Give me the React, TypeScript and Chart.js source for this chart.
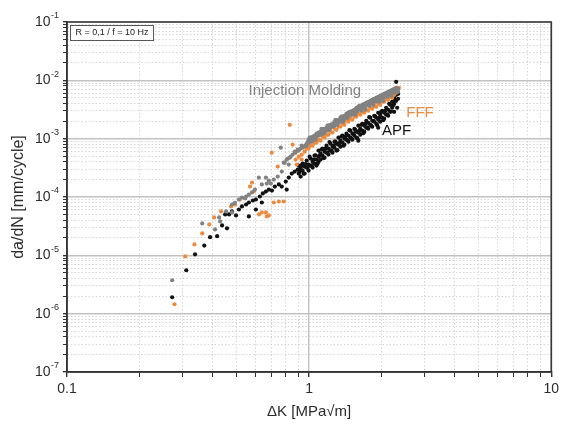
import { useEffect, useRef } from 'react';
import { Chart } from 'chart.js/auto';

// ΔK [MPa√m], da/dN [mm/cycle]
const moldingPoints: [number, number][] = [
	[0.272, 3.74e-6], [0.362, 3.52e-5], [0.409, 2.78e-5], [0.425, 4.46e-5], [0.429, 3.81e-5],
	[0.454, 5.65e-5], [0.48, 5.43e-5], [0.48, 7.44e-5], [0.494, 7.9e-5], [0.513, 9.06e-5],
	[0.528, 9.8e-5], [0.544, 9.43e-5], [0.549, 1.02e-4], [0.564, 1.1e-4], [0.581, 1.2e-4],
	[0.597, 1.34e-4], [0.62, 2.15e-4], [0.638, 1.64e-4], [0.663, 2.15e-4], [0.669, 1.7e-4],
	[0.682, 1.91e-4], [0.695, 1.7e-4], [0.715, 1.99e-4], [0.742, 2.24e-4], [0.764, 7.02e-4],
	[0.771, 2.73e-4], [0.786, 3.88e-4], [0.793, 3.88e-4], [0.808, 4.38e-4], [0.816, 4.55e-4],
	[0.824, 3.6e-4], [0.832, 4.73e-4], [0.839, 4.92e-4], [0.856, 5.33e-4], [0.872, 5.99e-4],
	[0.88, 5.76e-4], [0.897, 6.49e-4], [0.906, 6.24e-4], [0.923, 6.75e-4], [0.932, 7.59e-4],
	[0.94, 7.02e-4], [0.949, 7.3e-4], [0.967, 7.59e-4],
	[0.977, 8.21e-4], [0.977, 7.59e-4], [0.986, 8.7e-4], [0.995, 9.61e-4], [0.995, 8.55e-4],
	[1.005, 1.04e-3], [1.014, 1.04e-3], [1.014, 8.89e-4], [1.024, 8.89e-4], [1.034, 1.07e-3],
	[1.034, 9.4e-4], [1.043, 1.09e-3], [1.053, 1.13e-3], [1.053, 1.0e-3], [1.063, 9.61e-4],
	[1.073, 1.22e-3], [1.073, 1.09e-3], [1.084, 1.22e-3], [1.094, 1.27e-3], [1.094, 1.13e-3],
	[1.104, 1.17e-3], [1.115, 1.32e-3], [1.115, 1.17e-3], [1.125, 1.48e-3], [1.136, 1.42e-3],
	[1.136, 1.22e-3], [1.147, 1.22e-3], [1.158, 1.48e-3], [1.158, 1.32e-3], [1.169, 1.42e-3],
	[1.18, 1.54e-3], [1.18, 1.37e-3], [1.191, 1.67e-3], [1.202, 1.67e-3], [1.202, 1.42e-3],
	[1.214, 1.42e-3], [1.225, 1.73e-3], [1.225, 1.54e-3], [1.237, 1.7e-3], [1.249, 1.8e-3],
	[1.249, 1.6e-3], [1.261, 1.67e-3], [1.273, 1.95e-3], [1.273, 1.67e-3], [1.285, 2.11e-3],
	[1.297, 2.03e-3], [1.297, 1.8e-3], [1.309, 1.73e-3], [1.322, 2.11e-3], [1.322, 1.87e-3],
	[1.334, 2.03e-3], [1.347, 2.29e-3], [1.347, 1.95e-3], [1.36, 2.38e-3], [1.373, 2.38e-3],
	[1.373, 2.11e-3], [1.386, 1.95e-3], [1.399, 2.47e-3], [1.399, 2.2e-3], [1.412, 2.42e-3],
	[1.426, 2.68e-3], [1.426, 2.29e-3], [1.439, 2.25e-3], [1.453, 2.78e-3], [1.453, 2.47e-3],
	[1.467, 2.89e-3], [1.481, 2.89e-3], [1.481, 2.57e-3], [1.495, 2.57e-3], [1.509, 3.01e-3],
	[1.509, 2.68e-3], [1.523, 3.01e-3], [1.538, 3.13e-3], [1.538, 2.78e-3], [1.552, 2.57e-3],
	[1.567, 3.39e-3], [1.567, 2.89e-3], [1.582, 3.01e-3], [1.597, 3.52e-3], [1.597, 3.13e-3],
	[1.612, 3.66e-3], [1.627, 3.66e-3], [1.627, 3.26e-3], [1.643, 3.01e-3], [1.659, 3.81e-3],
	[1.659, 3.39e-3], [1.674, 3.52e-3], [1.69, 3.97e-3], [1.69, 3.52e-3], [1.706, 3.13e-3],
	[1.722, 4.13e-3], [1.722, 3.66e-3], [1.739, 3.97e-3], [1.755, 4.29e-3], [1.755, 3.81e-3],
	[1.772, 3.66e-3], [1.789, 4.46e-3], [1.789, 3.97e-3], [1.806, 4.46e-3], [1.823, 4.64e-3],
	[1.823, 4.13e-3], [1.84, 3.81e-3], [1.858, 4.83e-3], [1.858, 4.29e-3], [1.875, 4.29e-3],
	[1.893, 5.02e-3], [1.893, 4.46e-3], [1.911, 4.83e-3], [1.929, 5.22e-3], [1.929, 4.64e-3],
	[1.948, 4.29e-3], [1.966, 5.43e-3], [1.966, 4.83e-3], [1.985, 5.02e-3], [2.004, 5.65e-3],
	[2.004, 5.02e-3], [2.023, 4.46e-3], [2.042, 5.88e-3], [2.042, 5.22e-3], [2.062, 5.88e-3],
	[2.081, 6.11e-3], [2.081, 5.43e-3], [2.101, 5.22e-3], [2.121, 6.36e-3], [2.121, 5.65e-3],
	[2.141, 5.88e-3], [2.161, 6.61e-3], [2.161, 5.88e-3], [2.182, 5.43e-3], [2.203, 6.88e-3],
	[2.203, 6.11e-3], [2.224, 6.61e-3], [2.245, 7.15e-3], [2.245, 6.36e-3], [2.266, 6.11e-3],
	[2.288, 7.44e-3], [2.288, 6.61e-3], [2.31, 6.88e-3], [2.331, 7.15e-3], [2.331, 6.36e-3],
];

const fffPoints: [number, number][] = [
	[0.278, 1.45e-6], [0.308, 9.6e-6], [0.336, 1.54e-5], [0.362, 2.38e-5], [0.387, 3.39e-5],
	[0.405, 4.46e-5], [0.433, 5.65e-5], [0.476, 6.88e-5], [0.494, 7.44e-5], [0.518, 9.06e-5],
	[0.621, 5.02e-5], [0.638, 5.43e-5], [0.663, 5.43e-5], [0.682, 4.83e-5], [0.669, 4.64e-5],
	[0.715, 8.05e-5], [0.75, 8.37e-5], [0.786, 8.37e-5], [0.57, 1.51e-4], [0.581, 1.77e-4],
	[0.592, 1.25e-4], [0.701, 5.76e-4], [0.742, 3.32e-4], [0.832, 1.73e-3], [0.855, 7.9e-4],
	[0.88, 4.38e-4], [0.889, 3.6e-4], [0.906, 4.92e-4], [0.932, 5.33e-4], [0.932, 4.38e-4],
	[0.958, 5.99e-4], [0.977, 6.75e-4], [0.995, 6.75e-4], [1.014, 7.59e-4],
	[1.034, 7.59e-4], [1.053, 8.55e-4], [1.073, 8.55e-4], [1.094, 9.61e-4], [1.115, 9.24e-4],
	[1.136, 1.09e-3], [1.158, 1.04e-3], [1.18, 1.17e-3], [1.202, 1.17e-3], [1.225, 1.32e-3],
	[1.249, 1.27e-3], [1.273, 1.48e-3], [1.297, 1.42e-3], [1.322, 1.6e-3], [1.347, 1.6e-3],
	[1.373, 1.8e-3], [1.399, 1.73e-3], [1.426, 2.03e-3], [1.453, 1.95e-3], [1.481, 2.2e-3],
	[1.509, 2.11e-3], [1.538, 2.38e-3], [1.567, 2.38e-3], [1.597, 2.68e-3], [1.627, 2.57e-3],
	[1.659, 2.89e-3], [1.69, 2.78e-3], [1.722, 3.13e-3], [1.755, 3.01e-3], [1.789, 3.39e-3],
	[1.823, 3.26e-3], [1.858, 3.66e-3], [1.893, 3.52e-3], [1.929, 3.97e-3], [1.966, 3.81e-3],
	[2.004, 4.29e-3], [2.042, 4.29e-3], [2.081, 4.83e-3], [2.121, 4.64e-3], [2.161, 5.22e-3],
	[2.203, 5.02e-3], [2.245, 5.65e-3], [2.288, 6.11e-3], [2.331, 6.61e-3], [2.35, 7.44e-3],
];

const apfPoints: [number, number][] = [
	[0.272, 1.91e-6], [0.311, 5.55e-6], [0.338, 1.04e-5], [0.369, 1.47e-5], [0.39, 2.05e-5],
	[0.417, 2.13e-5], [0.437, 3.26e-5], [0.458, 2.9e-5], [0.45, 5.02e-5], [0.467, 5.02e-5],
	[0.48, 5.65e-5], [0.499, 4.83e-5], [0.513, 6.11e-5], [0.528, 6.88e-5], [0.549, 7.44e-5],
	[0.564, 8.05e-5], [0.564, 4.64e-5], [0.586, 8.71e-5], [0.603, 9.06e-5], [0.603, 6.11e-5],
	[0.626, 1.02e-4], [0.638, 8.05e-5], [0.644, 1.15e-4], [0.663, 1.24e-4], [0.682, 1.34e-4],
	[0.702, 1.29e-4], [0.722, 1.51e-4], [0.75, 1.64e-4], [0.771, 1.51e-4], [0.801, 1.84e-4],
	[0.808, 1.34e-4], [0.824, 2.15e-4], [0.848, 2.52e-4], [0.872, 2.73e-4], [0.897, 2.95e-4],
	[0.923, 3.19e-4], [0.949, 3.6e-4],
	[0.906, 3.46e-4], [0.906, 2.52e-4], [0.915, 2.73e-4], [0.923, 2.95e-4], [0.923, 2.24e-4],
	[0.932, 3.5e-4], [0.94, 3.74e-4], [0.94, 2.84e-4], [0.949, 2.52e-4], [0.958, 3.32e-4],
	[0.958, 2.52e-4], [0.967, 3.68e-4], [0.977, 4.21e-4], [0.977, 3.19e-4], [0.986, 3.19e-4],
	[0.995, 3.6e-4], [0.995, 2.84e-4], [1.005, 4.92e-4], [1.014, 4.55e-4], [1.014, 3.46e-4],
	[1.024, 3.46e-4], [1.034, 4.04e-4], [1.034, 3.19e-4], [1.043, 4.38e-4], [1.053, 5.12e-4],
	[1.053, 3.74e-4], [1.063, 5.2e-4], [1.073, 4.38e-4], [1.073, 3.46e-4], [1.084, 3.74e-4],
	[1.094, 6.24e-4], [1.094, 4.92e-4], [1.094, 4.04e-4], [1.104, 5.12e-4], [1.115, 5.54e-4],
	[1.115, 4.38e-4], [1.125, 6.49e-4], [1.136, 6.75e-4], [1.136, 5.12e-4], [1.147, 4.64e-4],
	[1.158, 5.99e-4], [1.158, 4.73e-4], [1.169, 6.75e-4], [1.18, 7.59e-4], [1.18, 5.76e-4],
	[1.191, 5.76e-4], [1.202, 6.75e-4], [1.202, 5.33e-4], [1.214, 8.76e-4], [1.225, 8.21e-4],
	[1.225, 6.24e-4], [1.237, 6.24e-4], [1.249, 7.3e-4], [1.249, 5.76e-4], [1.261, 7.59e-4],
	[1.273, 8.89e-4], [1.273, 7.02e-4], [1.285, 8.89e-4], [1.297, 8.21e-4], [1.297, 6.24e-4],
	[1.309, 6.34e-4], [1.322, 1.04e-3], [1.322, 7.9e-4], [1.334, 8.4e-4], [1.347, 9.24e-4],
	[1.347, 7.3e-4], [1.36, 1.09e-3], [1.373, 1.13e-3], [1.373, 8.55e-4], [1.386, 7.59e-4],
	[1.399, 1.0e-3], [1.399, 7.9e-4], [1.412, 1.09e-3], [1.426, 1.22e-3], [1.426, 9.61e-4],
	[1.439, 9.4e-4], [1.453, 1.13e-3], [1.453, 8.89e-4], [1.467, 1.4e-3], [1.481, 1.37e-3],
	[1.481, 1.04e-3], [1.495, 1.0e-3], [1.509, 1.22e-3], [1.509, 9.61e-4], [1.523, 1.22e-3],
	[1.538, 1.48e-3], [1.538, 1.13e-3], [1.552, 1.42e-3], [1.567, 1.32e-3], [1.567, 1.04e-3],
	[1.582, 1.02e-3], [1.597, 1.67e-3], [1.597, 1.27e-3], [1.597, 9.24e-4], [1.612, 1.36e-3],
	[1.627, 1.48e-3], [1.627, 1.17e-3], [1.643, 1.73e-3], [1.659, 1.8e-3], [1.659, 1.37e-3],
	[1.674, 1.24e-3], [1.69, 1.67e-3], [1.69, 1.32e-3], [1.706, 1.8e-3], [1.722, 2.03e-3],
	[1.722, 1.54e-3], [1.739, 1.56e-3], [1.755, 1.87e-3], [1.755, 1.48e-3], [1.772, 2.34e-3],
	[1.789, 2.29e-3], [1.789, 1.73e-3], [1.806, 1.67e-3], [1.823, 2.03e-3], [1.823, 1.6e-3],
	[1.84, 2.03e-3], [1.858, 2.47e-3], [1.858, 1.95e-3], [1.875, 2.41e-3], [1.893, 2.29e-3],
	[1.893, 1.8e-3], [1.911, 1.7e-3], [1.929, 2.78e-3], [1.929, 2.11e-3], [1.929, 1.54e-3],
	[1.948, 2.27e-3], [1.966, 2.57e-3], [1.966, 1.95e-3], [1.985, 2.89e-3], [2.004, 3.01e-3],
	[2.004, 2.29e-3], [2.023, 2.07e-3], [2.042, 2.78e-3], [2.042, 2.2e-3], [2.062, 3.01e-3],
	[2.081, 3.39e-3], [2.081, 2.57e-3], [2.101, 2.6e-3], [2.121, 3.13e-3], [2.121, 2.47e-3],
	[2.141, 3.97e-3], [2.161, 3.81e-3], [2.161, 2.89e-3], [2.182, 2.92e-3], [2.203, 4.29e-3],
	[2.203, 3.39e-3], [2.224, 3.74e-3], [2.245, 5.02e-3], [2.245, 3.97e-3], [2.245, 2.89e-3],
	[2.266, 4.57e-3], [2.288, 5.65e-3], [2.288, 4.46e-3], [2.288, 9.43e-3], [2.31, 3.39e-3],
	[2.331, 5.88e-3], [2.331, 4.83e-3],
];

const seriesNames = ['Injection Molding', 'FFF', 'APF'];
const seriesColors = ['#828282', '#ec8a3e', '#111111'];
// where each series name is written (ΔK, da/dN), left edge, vertical middle
const seriesLabelAnchors: [number, number][] = [
	[0.562, 6.56e-3],
	[2.52, 2.75e-3],
	[2.0, 1.35e-3],
];
const conditionText = 'R = 0,1 / f = 10 Hz';
const xTitle = 'ΔK [MPa√m]';
const yTitle = 'da/dN [mm/cycle]';
const xDecades = [-1, 1];
const yDecades = [-7, -1];

const FONT = '"Liberation Sans", Arial, sans-serif';
const TEXT_COLOR = '#2b2b2b';

function logTicks(minExp: number, maxExp: number) {
	const out: number[] = [];
	for (let e = minExp; e < maxExp; e++) {
		for (let m = 1; m <= 9; m++) out.push(Number((m * 10 ** e).toPrecision(3)));
	}
	out.push(Number((10 ** maxExp).toPrecision(3)));
	return out;
}

function isDecade(v?: number) {
	if (v == null) return false;
	const l = Math.log10(v);
	return Math.abs(l - Math.round(l)) < 1e-9;
}

const gridColor = (c) => (isDecade(c.tick?.value) ? '#c2c2c2' : '#d6d6d6');
const gridWidth = (c) => (isDecade(c.tick?.value) ? 1.4 : 1);
const gridDash = (c) => (c.tick && !isDecade(c.tick.value) ? [1.5, 2] : []);

const decorations = {
	id: 'decorations',
	afterDraw(chart) {
		const { ctx, chartArea: a, scales } = chart;
		const y = scales.y;
		const x = scales.x;
		ctx.save();

		// frame
		ctx.strokeStyle = '#333';
		ctx.lineWidth = 1.5;
		ctx.strokeRect(a.left, a.top, a.right - a.left, a.bottom - a.top);

		// y decade labels 10^n
		ctx.fillStyle = TEXT_COLOR;
		ctx.textBaseline = 'middle';
		for (let e = yDecades[0]; e <= yDecades[1]; e++) {
			const py = y.getPixelForValue(10 ** e);
			const sup = String(e);
			ctx.font = `9px ${FONT}`;
			const sw = ctx.measureText(sup).width;
			const right = a.left - 8;
			ctx.textAlign = 'left';
			ctx.fillText(sup, right - sw, py - 6);
			ctx.font = `14px ${FONT}`;
			ctx.textAlign = 'right';
			ctx.fillText('10', right - sw - 0.5, py);
		}

		// test condition box
		ctx.font = `9px ${FONT}`;
		const tw = ctx.measureText(conditionText).width;
		const bx = a.left + 3;
		const by = a.top + 3;
		ctx.fillStyle = '#fff';
		ctx.fillRect(bx, by, tw + 10, 15);
		ctx.strokeStyle = '#555';
		ctx.lineWidth = 1;
		ctx.strokeRect(bx + 0.5, by + 0.5, tw + 10, 15);
		ctx.fillStyle = '#222';
		ctx.textAlign = 'left';
		ctx.fillText(conditionText, bx + 5.5, by + 8);

		// series names
		ctx.font = `15px ${FONT}`;
		seriesNames.forEach((name, i) => {
			const [dk, rate] = seriesLabelAnchors[i];
			ctx.fillStyle = seriesColors[i];
			ctx.fillText(name, x.getPixelForValue(dk), y.getPixelForValue(rate));
		});
		ctx.restore();
	},
};

export default function App() {
	const canvasRef = useRef(null);

	useEffect(() => {
		document.body.style.margin = '0';
		if (!canvasRef.current) return;

		const xTicks = logTicks(xDecades[0], xDecades[1]);
		const yTicks = logTicks(yDecades[0], yDecades[1]);
		const toXY = (pts) => pts.map(([dk, rate]) => ({ x: dk, y: rate }));

		const chart = new Chart(canvasRef.current, {
			type: 'scatter',
			data: {
				datasets: [moldingPoints, fffPoints, apfPoints].map((pts, i) => ({
					label: seriesNames[i],
					data: toXY(pts),
					backgroundColor: seriesColors[i],
					borderWidth: 0,
					pointRadius: 2.1,
					pointHoverRadius: 2.1,
				})),
			},
			options: {
				responsive: true,
				maintainAspectRatio: false,
				animation: false,
				events: [],
				layout: { padding: { top: 22, right: 8, left: 0, bottom: 0 } },
				plugins: { legend: { display: false }, tooltip: { enabled: false } },
				scales: {
					x: {
						type: 'logarithmic',
						min: 10 ** xDecades[0],
						max: 10 ** xDecades[1],
						afterBuildTicks: (s) => {
							s.ticks = xTicks.map((v) => ({ value: v }));
						},
						afterFit: (s) => {
							s.height = 58;
						},
						ticks: {
							autoSkip: false,
							maxRotation: 0,
							padding: 4,
							color: TEXT_COLOR,
							font: { family: FONT, size: 14 },
							callback: (v) => (isDecade(v) ? String(Number(Number(v).toPrecision(3))) : ''),
						},
						grid: { color: gridColor, lineWidth: gridWidth, tickColor: '#333', tickLength: 5 },
						border: { color: '#333', width: 1.5, dash: gridDash },
						title: {
							display: true,
							text: xTitle,
							color: TEXT_COLOR,
							font: { family: FONT, size: 15 },
							padding: { bottom: 9 },
						},
					},
					y: {
						type: 'logarithmic',
						min: 10 ** yDecades[0],
						max: 10 ** yDecades[1],
						afterBuildTicks: (s) => {
							s.ticks = yTicks.map((v) => ({ value: v }));
						},
						afterFit: (s) => {
							s.width = 67;
						},
						ticks: { autoSkip: false, callback: () => '' },
						grid: { color: gridColor, lineWidth: gridWidth, tickColor: '#333', tickLength: 4 },
						border: { color: '#333', width: 1.5, dash: gridDash },
						title: {
							display: true,
							text: yTitle,
							color: TEXT_COLOR,
							font: { family: FONT, size: 16 },
							padding: { top: 9 },
						},
					},
				},
			},
			plugins: [decorations],
		});

		return () => chart.destroy();
	}, []);

	return (
		<div style={{ width: 563, height: 430, position: 'relative' }}>
			<canvas ref={canvasRef} />
		</div>
	);
}
